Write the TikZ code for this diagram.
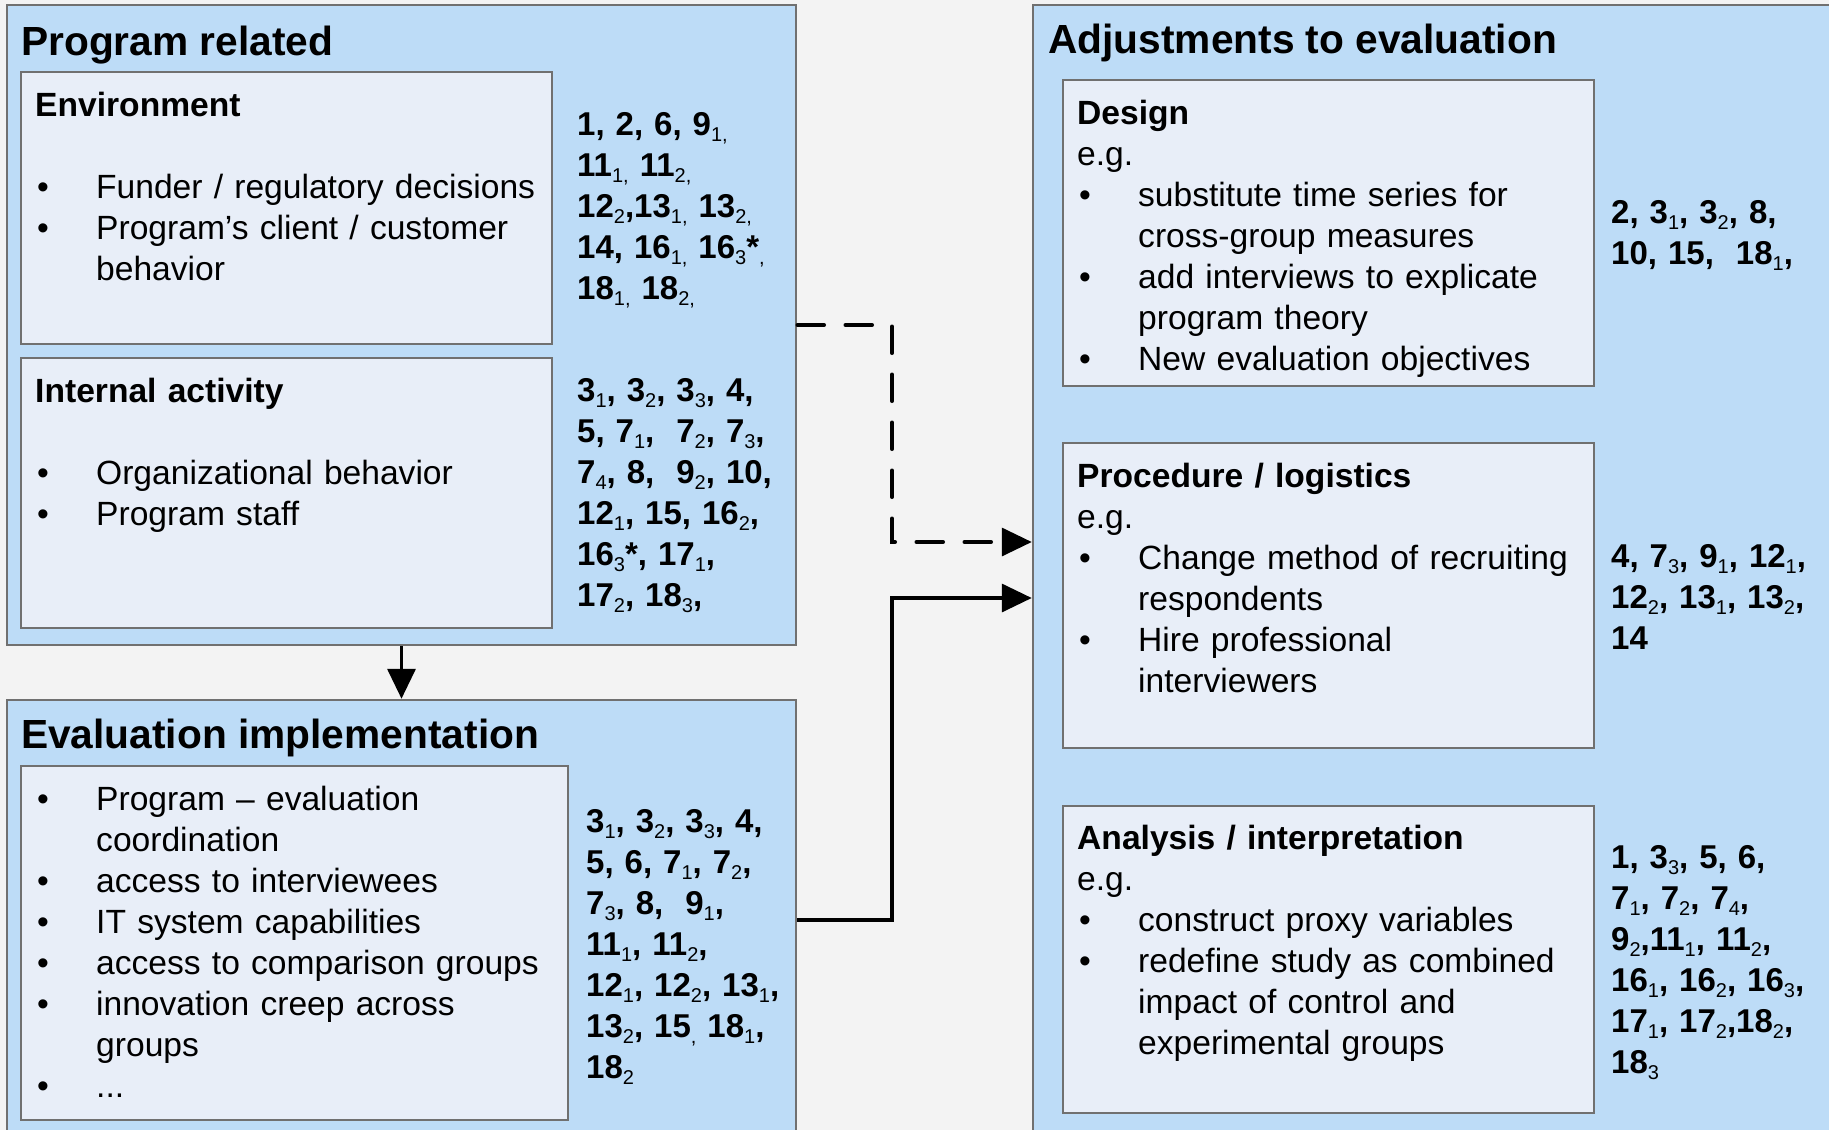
\documentclass[tikz,border=0pt]{standalone}
\usepackage{fontspec}
\setmainfont{Liberation Sans}
\usetikzlibrary{arrows.meta}
\definecolor{bgc}{HTML}{F3F3F3}
\definecolor{pblue}{HTML}{BDDCF7}
\definecolor{innerc}{HTML}{E8EEF8}
\definecolor{edgec}{HTML}{707070}
\newcommand{\bulx}{\makebox[61pt][l]{\hspace{2pt}\textbullet}}
\newcommand{\bulind}{\makebox[61pt]{}}
\newcommand{\sbx}[1]{{\fontseries{m}\selectfont\fontsize{20}{20}\selectfont\raisebox{-6pt}{#1}}}
\begin{document}
\begin{tikzpicture}[x=1pt,y=-1pt,
  outerbox/.style={draw=edgec, line width=2.5pt, fill=pblue, inner sep=0pt},
  innerbox/.style={draw=edgec, line width=2.5pt, fill=innerc, inner sep=0pt},
  titletext/.style={anchor=base west, inner sep=0pt, font=\fontsize{40.7}{48}\selectfont\bfseries},
  bodytext/.style={anchor=base west, inner sep=0pt, align=left, text width=540pt, font=\fontsize{33.6}{41}\selectfont},
  numtext/.style={anchor=base west, inner sep=0pt, align=left, text width=240pt, font=\fontsize{33}{41}\selectfont\bfseries},
  conn/.style={line width=3.5pt, -{Triangle[length=30pt,width=28pt]}},
  dashline/.style={dash pattern=on 27pt off 21pt, line cap=round}
]
\useasboundingbox (0,0) rectangle (1829,1130);
\clip (0,0) rectangle (1829,1130);
\fill[bgc] (0,0) rectangle (1829,1130);

% boxes
\node[outerbox, minimum width=789pt, minimum height=640pt] (prog) at (401.5,325) {};
\node[innerbox, minimum width=531pt, minimum height=272pt] (env) at (286.5,208) {};
\node[innerbox, minimum width=531pt, minimum height=270pt] (intact) at (286.5,493) {};
\node[outerbox, minimum width=789pt, minimum height=440pt] (evalimpl) at (401.5,920) {};
\node[innerbox, minimum width=547pt, minimum height=354pt] (evalin) at (294.5,943) {};
\node[outerbox, minimum width=812pt, minimum height=1140pt] (adj) at (1439,575) {};
\node[innerbox, minimum width=531pt, minimum height=306pt] (design) at (1328.5,233) {};
\node[innerbox, minimum width=531pt, minimum height=305pt] (proc) at (1328.5,595.5) {};
\node[innerbox, minimum width=531pt, minimum height=307pt] (anal) at (1328.5,959.5) {};

% titles
\node[titletext] (tprog) at (21,55) {Program related};
\node[titletext] (teval) at (21,748) {Evaluation implementation};
\node[titletext] (tadj) at (1048,53) {Adjustments to evaluation};

% left texts
\node[bodytext] (benv) at (35,116) {\textbf{Environment}\\\mbox{}\\
\bulx Funder / regulatory decisions\\
\bulx Program’s client / customer\\
\bulind behavior};
\node[bodytext] (bint) at (35,402) {\textbf{Internal activity}\\\mbox{}\\
\bulx Organizational behavior\\
\bulx Program staff};
\node[bodytext] (beval) at (35,810) {\bulx Program – evaluation\\
\bulind coordination\\
\bulx access to interviewees\\
\bulx IT system capabilities\\
\bulx access to comparison groups\\
\bulx innovation creep across\\
\bulind groups\\
\bulx ...};

% right texts
\node[bodytext] (bdes) at (1077,124) {\textbf{Design}\\
e.g.\\
\bulx substitute time series for\\
\bulind cross-group measures\\
\bulx add interviews to explicate\\
\bulind program theory\\
\bulx New evaluation objectives};
\node[bodytext] (bproc) at (1077,487) {\textbf{Procedure / logistics}\\
e.g.\\
\bulx Change method of recruiting\\
\bulind respondents\\
\bulx Hire professional\\
\bulind interviewers};
\node[bodytext] (banal) at (1077,849) {\textbf{Analysis / interpretation}\\
e.g.\\
\bulx construct proxy variables\\
\bulx redefine study as combined\\
\bulind impact of control and\\
\bulind experimental groups};

% numbers
\node[numtext] (nenv) at (577,135.5) {1, 2, 6, 9\sbx{1,}\\
11\sbx{1,} 11\sbx{2,}\\
12\sbx{2},13\sbx{1,} 13\sbx{2,}\\
14, 16\sbx{1,} 16\sbx{3}*\sbx{,}\\
18\sbx{1,} 18\sbx{2,}};
\node[numtext] (nint) at (577,401) {3\sbx{1}, 3\sbx{2}, 3\sbx{3}, 4,\\
5, 7\sbx{1}, \ 7\sbx{2}, 7\sbx{3},\\
7\sbx{4}, 8, \ 9\sbx{2}, 10,\\
12\sbx{1}, 15, 16\sbx{2},\\
16\sbx{3}*, 17\sbx{1},\\
17\sbx{2}, 18\sbx{3},};
\node[numtext] (neval) at (586,832) {3\sbx{1}, 3\sbx{2}, 3\sbx{3}, 4,\\
5, 6, 7\sbx{1}, 7\sbx{2},\\
7\sbx{3}, 8, \ 9\sbx{1},\\
11\sbx{1}, 11\sbx{2},\\
12\sbx{1}, 12\sbx{2}, 13\sbx{1},\\
13\sbx{2}, 15\sbx{,} 18\sbx{1},\\
18\sbx{2}};
\node[numtext] (ndes) at (1611,223) {2, 3\sbx{1}, 3\sbx{2}, 8,\\
10, 15, \ 18\sbx{1},};
\node[numtext] (nproc) at (1611,567) {4, 7\sbx{3}, 9\sbx{1}, 12\sbx{1},\\
12\sbx{2}, 13\sbx{1}, 13\sbx{2},\\
14};
\node[numtext] (nanal) at (1611,868) {1, 3\sbx{3}, 5, 6,\\
7\sbx{1}, 7\sbx{2}, 7\sbx{4},\\
9\sbx{2},11\sbx{1}, 11\sbx{2},\\
16\sbx{1}, 16\sbx{2}, 16\sbx{3},\\
17\sbx{1}, 17\sbx{2},18\sbx{2},\\
18\sbx{3}};

% connectors
\coordinate (dturn) at (892,542);
\coordinate (sturn) at (892,598);
\draw[conn] (prog.south) -- (evalimpl.north);
\draw[conn, dashline] (prog.east) -| (dturn) -- (dturn -| adj.west);
\draw[conn] (evalimpl.east) -| (sturn) -- (sturn -| adj.west);
\end{tikzpicture}
\end{document}
